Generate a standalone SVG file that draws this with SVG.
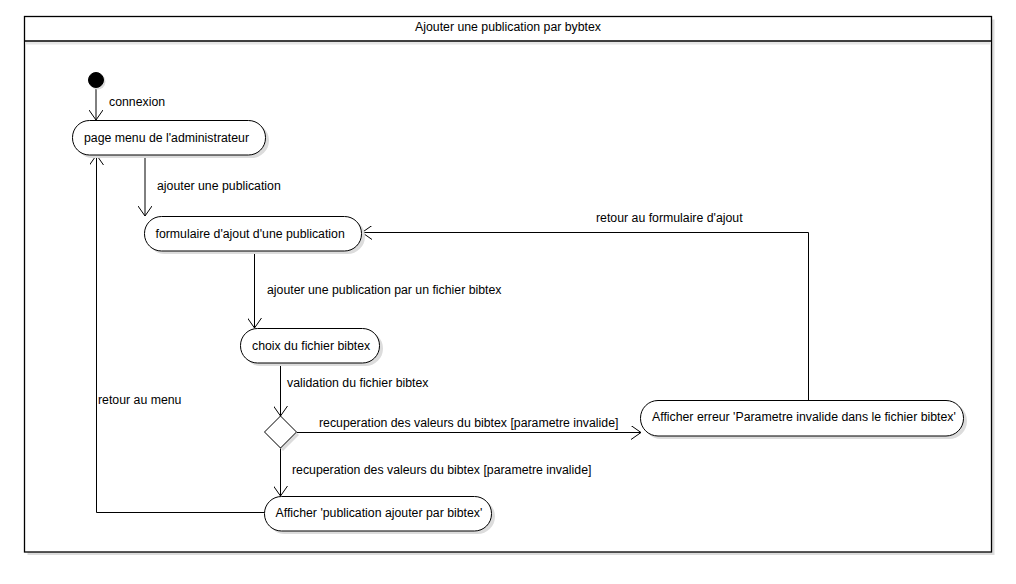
<svg xmlns="http://www.w3.org/2000/svg" width="1016" height="584" viewBox="0 0 1016 584">
<style>
text{font-family:"Liberation Sans",Arial,sans-serif;font-size:12.3px;fill:#000}
.node{fill:#fff;stroke:#000;stroke-width:1}
.shadow{fill:#dcdcdc;stroke:none}
.edge{fill:none;stroke:#000;stroke-width:1}
.c{text-anchor:middle}
</style>
<defs>
<marker id="arr" viewBox="0 0 10 14" refX="10" refY="7" markerWidth="10" markerHeight="14" markerUnits="userSpaceOnUse" orient="auto">
<path d="M0,0 L10,7 L0,14" fill="none" stroke="#000" stroke-width="1"/>
</marker>
</defs>
<rect width="1016" height="584" fill="#fff"/>
<g id="frame">
<rect x="27.5" y="19.5" width="967" height="535.5" class="shadow"/>
<rect x="24.5" y="16.5" width="967" height="535.5" fill="#fff" stroke="#000" stroke-width="1.3"/>
<rect x="25.5" y="41.5" width="965" height="3" fill="#e6e6e6"/>
<line x1="24.5" y1="41" x2="991.5" y2="41" stroke="#000" stroke-width="1.3"/>
<text x="508" y="31" class="c">Ajouter une publication par bybtex</text>
</g>
<g id="connectors">
<path class="edge" d="M96,88 L96,120" marker-end="url(#arr)"/>
<text x="109" y="106">connexion</text>
<path class="edge" d="M145,155 L145,216" marker-end="url(#arr)"/>
<text x="157" y="190">ajouter une publication</text>
<path class="edge" d="M254.5,251 L254.5,328" marker-end="url(#arr)"/>
<text x="267" y="294">ajouter une publication par un fichier bibtex</text>
<path class="edge" d="M280.5,363 L280.5,416" marker-end="url(#arr)"/>
<text x="287" y="387">validation du fichier bibtex</text>
<path class="edge" d="M297,432.5 L641,432.5" marker-end="url(#arr)"/>
<text x="319" y="427">recuperation des valeurs du bibtex [parametre invalide]</text>
<path class="edge" d="M280.5,448 L280.5,496" marker-end="url(#arr)"/>
<text x="292" y="474">recuperation des valeurs du bibtex [parametre invalide]</text>
<path class="edge" d="M264,512.5 L96.5,512.5 L96.5,155" marker-end="url(#arr)"/>
<text x="98" y="404">retour au menu</text>
<path class="edge" d="M808.5,400 L808.5,232.5 L362,232.5" marker-end="url(#arr)"/>
<text x="596" y="222">retour au formulaire d'ajout</text>
</g>
<g id="start">
<circle cx="97.5" cy="81.5" r="8" class="shadow"/>
<circle cx="96" cy="80" r="7.5" fill="#000" stroke="#000"/>
</g>
<g id="n1">
<rect x="75" y="123" width="194" height="35" rx="17.5" class="shadow"/>
<rect x="72.5" y="120.5" width="193" height="34.5" rx="17" class="node"/>
<text x="84" y="142">page menu de l'administrateur</text>
</g>
<g id="n2">
<rect x="147" y="219" width="218" height="35" rx="17.5" class="shadow"/>
<rect x="144.5" y="216.5" width="217" height="34.5" rx="17" class="node"/>
<text x="155.5" y="237.5">formulaire d'ajout d'une publication</text>
</g>
<g id="n3">
<rect x="243" y="331" width="140" height="35" rx="17.5" class="shadow"/>
<rect x="240.5" y="328.5" width="139" height="34.5" rx="17" class="node"/>
<text x="252" y="349.5">choix du fichier bibtex</text>
</g>
<g id="decision">
<polygon points="283,419 299,435 283,451 267,435" class="shadow"/>
<polygon points="280.5,416 296.5,432 280.5,448 264.5,432" class="node"/>
</g>
<g id="n4">
<rect x="643" y="403" width="324" height="36" rx="18" class="shadow"/>
<rect x="640.5" y="400.5" width="323" height="35.5" rx="17.5" class="node"/>
<text x="652" y="420.5">Afficher erreur 'Parametre invalide dans le fichier bibtex'</text>
</g>
<g id="n5">
<rect x="267" y="499" width="228" height="35" rx="17.5" class="shadow"/>
<rect x="264.5" y="496.5" width="227" height="34.5" rx="17" class="node"/>
<text x="275.5" y="516.5">Afficher 'publication ajouter par bibtex'</text>
</g>
</svg>
